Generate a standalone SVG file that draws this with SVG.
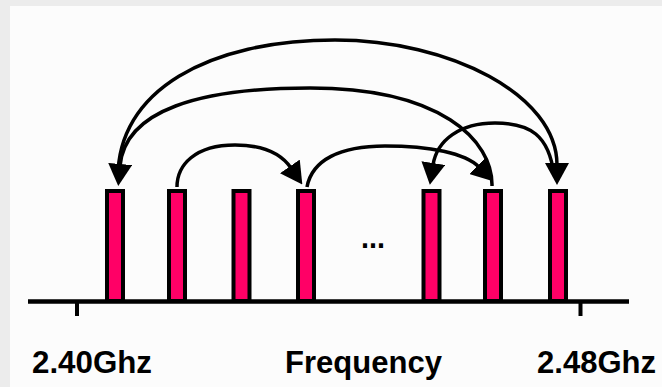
<svg xmlns="http://www.w3.org/2000/svg" width="662" height="387" viewBox="0 0 662 387">
  <defs>
    <style>
      .frame { fill: #ececec; }
      .panel { fill: #fcfcfc; }
      .bar { fill: #ff0066; stroke: #000; stroke-width: 4; }
      .axis { stroke: #000; stroke-width: 4.5; fill: none; }
      .tick { stroke: #000; stroke-width: 4; }
      .hop { fill: none; stroke: #000; stroke-width: 3.5; stroke-linejoin: round; marker-end: url(#head); }
      .label { font-family: "Liberation Sans", Arial, sans-serif; font-weight: bold; font-size: 31px; fill: #000; }
      .dots { font-family: "Liberation Sans", Arial, sans-serif; font-weight: bold; font-size: 32px; fill: #000; }
    </style>
    <marker id="head" markerUnits="userSpaceOnUse" viewBox="0 0 22 24" markerWidth="22" markerHeight="24" refX="2" refY="12" orient="auto">
      <path d="M0,0 L22,12 L0,24 Z" fill="#000"/>
    </marker>
  </defs>

  <!-- page background -->
  <rect class="frame" x="0" y="0" width="662" height="387"/>
  <rect class="panel" x="10" y="6" width="652" height="381"/>

  <!-- frequency axis -->
  <g id="axis">
    <line class="axis" x1="28" y1="301.5" x2="629" y2="301.5"/>
    <line class="tick" x1="77" y1="301" x2="77" y2="316"/>
    <line class="tick" x1="580.5" y1="301" x2="580.5" y2="316"/>
  </g>

  <!-- channels -->
  <g id="ch1"><rect class="bar" x="107" y="191" width="16" height="110"/></g>
  <g id="ch2"><rect class="bar" x="169" y="191" width="16" height="110"/></g>
  <g id="ch3"><rect class="bar" x="233.5" y="191" width="16" height="110"/></g>
  <g id="ch4"><rect class="bar" x="298" y="191" width="16" height="110"/></g>
  <g id="ch5"><rect class="bar" x="423.5" y="191" width="16" height="110"/></g>
  <g id="ch6"><rect class="bar" x="485" y="191" width="16" height="110"/></g>
  <g id="ch7"><rect class="bar" x="550" y="191" width="16" height="110"/></g>

  <!-- hop sequence -->
  <g id="hops">
    <!-- ch2 -> ch4 -->
    <path class="hop" d="M177,187 C177,165 195,145 235,145 C262,145 280,152 291,168"/>
    <!-- ch4 -> ch6 -->
    <path class="hop" d="M307,187 C312,160 340,146 385,146 C430,146 465,153 479,167"/>
    <!-- ch6 -> ch1 -->
    <path class="hop" d="M492,186 C493,140 440,88 310,88 C200,88 125,110 120,166"/>
    <!-- ch1 -> ch7 -->
    <path class="hop" d="M118,180 C116,90 210,40 335,40 C450,40 557,95 557,165"/>
    <!-- ch7 -> ch5 -->
    <path class="hop" d="M554,175 C549,135 530,123 495,123 C460,123 437,140 433,165"/>
  </g>

  <!-- labels -->
  <g id="labels">
    <text class="dots" x="361" y="248" textLength="24" lengthAdjust="spacingAndGlyphs">...</text>
    <text class="label" x="32" y="373" textLength="120" lengthAdjust="spacingAndGlyphs">2.40Ghz</text>
    <text class="label" x="285" y="373" textLength="157" lengthAdjust="spacingAndGlyphs">Frequency</text>
    <text class="label" x="537" y="373" textLength="119" lengthAdjust="spacingAndGlyphs">2.48Ghz</text>
  </g>
</svg>
